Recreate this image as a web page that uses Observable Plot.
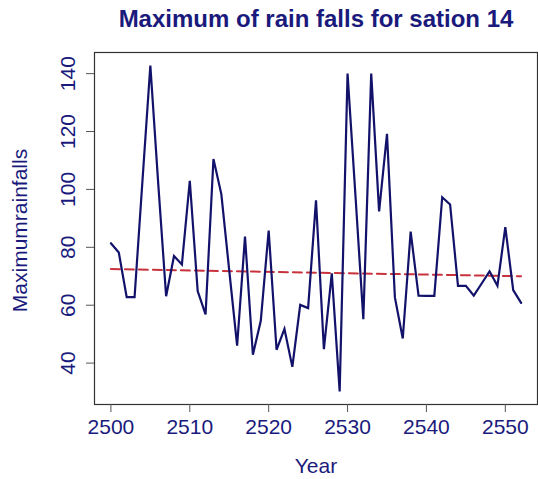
<!DOCTYPE html>
<html>
<head>
<meta charset="utf-8">
<script src="https://cdn.jsdelivr.net/npm/d3@7"></script>
<script src="https://cdn.jsdelivr.net/npm/@observablehq/plot@0.6"></script>
<style>
  html, body { margin: 0; padding: 0; background: #ffffff; }
  #chart svg { display: block; font-family: "Liberation Sans", Arial, sans-serif; }
</style>
</head>
<body>
<div id="chart"></div>
<script>
// Annual maximum rainfall, station 14 (Buddhist-era years)
const years = d3.range(2500, 2553);
const maxRain = [
  81.4, 78.2, 62.8, 62.8, 103.0, 142.8, 102.0, 63.1, 77.0, 74.1,
  103.0, 64.9, 56.8, 110.5, 98.4, 72.0, 46.0, 83.7, 42.9, 54.6,
  85.8, 44.6, 51.8, 38.7, 60.1, 59.0, 96.2, 44.8, 71.0, 30.2,
  140.0, 98.0, 55.2, 140.0, 92.4, 119.2, 62.7, 48.5, 85.4, 63.3,
  63.2, 63.2, 97.3, 94.8, 66.7, 66.7, 63.3, 67.5, 71.7, 66.7,
  87.0, 65.2, 60.8
];

// Fitted linear trend, end points
const trendYears = [2500, 2552];
const trendValues = [72.5, 70.0];

// Axis ticks and text
const xTicks = [2500, 2510, 2520, 2530, 2540, 2550];
const yTicks = [40, 60, 80, 100, 120, 140];
const titleText = "Maximum of rain falls for sation 14";
const xLabel = "Year";
const yLabel = "Maximumrainfalls";

const series = years.map((year, i) => ({year, value: maxRain[i]}));
const trend = trendYears.map((year, i) => ({year, value: trendValues[i]}));

const navy = "#1a1a7c";
const font = 21;

const chart = Plot.plot({
  width: 538,
  height: 479,
  marginLeft: 94,
  marginRight: 1,
  marginTop: 52,
  marginBottom: 75,
  style: {background: "#ffffff", fontFamily: "'Liberation Sans', Arial, sans-serif"},
  x: {domain: [2497.92, 2554.08]},
  y: {domain: [25.7, 147.3]},
  marks: [
    Plot.frame({stroke: "#333333", strokeWidth: 1.2}),
    Plot.axisX({ticks: xTicks, tickSize: 8, tickPadding: 7, tickFormat: d => String(d),
      fontSize: font, fill: navy, stroke: "#555555", label: null}),
    Plot.axisY({ticks: yTicks, tickSize: 8, tickFormat: () => "", stroke: "#555555", label: null}),
    Plot.text(yTicks, {y: d => d, text: d => String(d), frameAnchor: "left", rotate: -90,
      textAnchor: "middle", lineAnchor: "bottom", dx: -20, fontSize: font, fill: navy}),
    Plot.line(trend, {x: "year", y: "value", stroke: "#c8323c", strokeWidth: 2,
      strokeDasharray: "9,5"}),
    Plot.line(series, {x: "year", y: "value", stroke: "#12126a", strokeWidth: 2.2,
      strokeLinejoin: "miter", strokeMiterlimit: 4}),
    Plot.text([titleText], {frameAnchor: "top", dy: -26, lineAnchor: "bottom",
      fontSize: 24, fontWeight: "bold", fill: navy}),
    Plot.text([xLabel], {frameAnchor: "bottom", dy: 68, lineAnchor: "bottom",
      fontSize: font, fill: navy}),
    Plot.text([yLabel], {frameAnchor: "left", rotate: -90, textAnchor: "middle",
      lineAnchor: "bottom", dx: -68, dy: 2, fontSize: font, fill: navy})
  ]
});

document.getElementById("chart").appendChild(chart);
</script>
</body>
</html>
